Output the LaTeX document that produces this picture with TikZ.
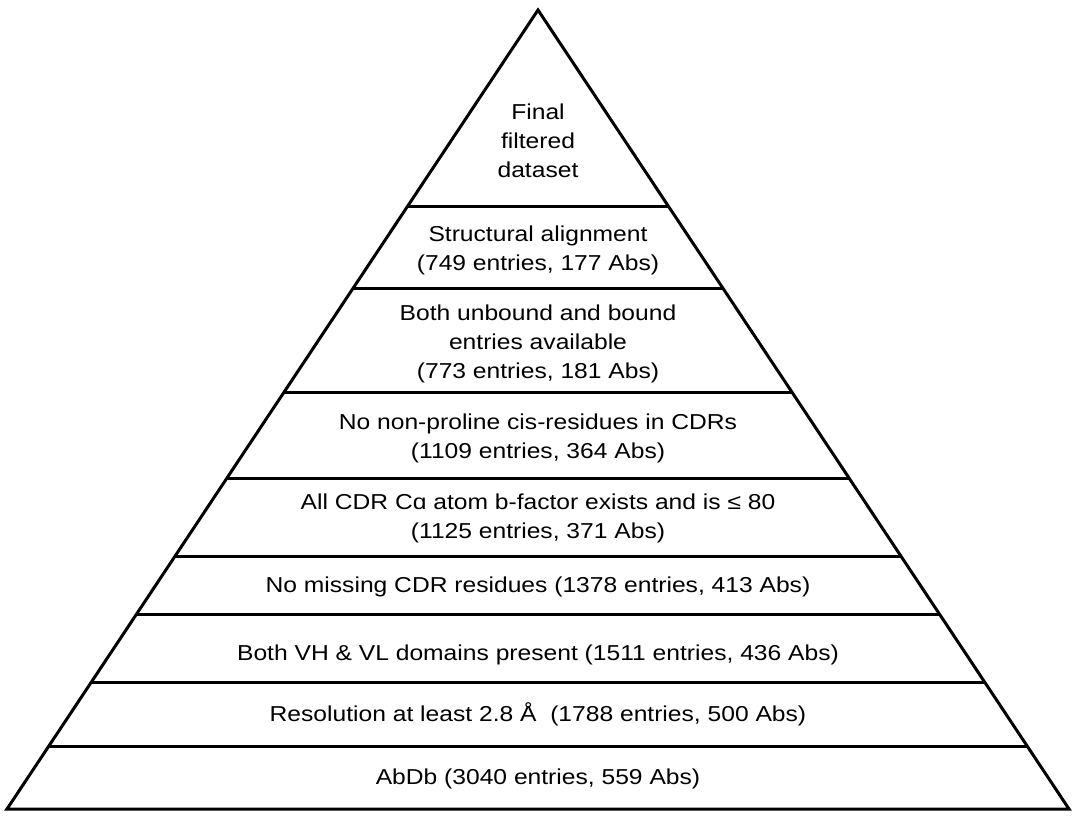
\documentclass[tikz,border=0pt]{standalone}
\usepackage{fontspec}
\setmainfont{Liberation Sans}[FakeStretch=1.14]
\usetikzlibrary{calc}
\begin{document}
\begin{tikzpicture}[x=1pt,y=-1pt,
  edge/.style={line width=3pt, line join=miter},
  sep/.style={line width=3pt},
  lbl/.style={anchor=base, font=\fontsize{21.6}{29}\selectfont, inner sep=0pt}]
\useasboundingbox (0,0) rectangle (1080,825);
\coordinate (A) at (538,10);
\coordinate (L) at (7,809);
\coordinate (R) at (1069,809);
\draw[edge] (L) -- (A) -- (R) -- cycle;
\foreach \yy/\nm in {207/a,288/b,393/c,479/d,556/e,615/f,682/g,746/h}{
  \coordinate (l\nm) at ($(A)!{(\yy-10)/799}!(L)$);
  \coordinate (r\nm) at ($(A)!{(\yy-10)/799}!(R)$);
  \draw[sep] (l\nm) -- (r\nm);
}
\node[lbl] (t1a) at (538,119) {Final};
\node[lbl] (t1b) at (538,148) {filtered};
\node[lbl] (t1c) at (538,177) {dataset};
\node[lbl] (t2a) at (538,241) {Structural alignment};
\node[lbl] (t2b) at (538,270) {(749 entries, 177 Abs)};
\node[lbl] (t3a) at (538,320) {Both unbound and bound};
\node[lbl] (t3b) at (538,349) {entries available};
\node[lbl] (t3c) at (538,378) {(773 entries, 181 Abs)};
\node[lbl] (t4a) at (538,429) {No non-proline cis-residues in CDRs};
\node[lbl] (t4b) at (538,458) {(1109 entries, 364 Abs)};
\node[lbl] (t5a) at (538,509) {All CDR C\symbol{"0251} atom b-factor exists and is ≤ 80};
\node[lbl] (t5b) at (538,538) {(1125 entries, 371 Abs)};
\node[lbl] (t6) at (538,592) {No missing CDR residues (1378 entries, 413 Abs)};
\node[lbl] (t7) at (538,660) {Both VH \& VL domains present (1511 entries, 436 Abs)};
\node[lbl] (t8) at (538,721) {Resolution at least 2.8 Å\ \ (1788 entries, 500 Abs)};
\node[lbl] (t9) at (538,784) {AbDb (3040 entries, 559 Abs)};
\end{tikzpicture}
\end{document}
